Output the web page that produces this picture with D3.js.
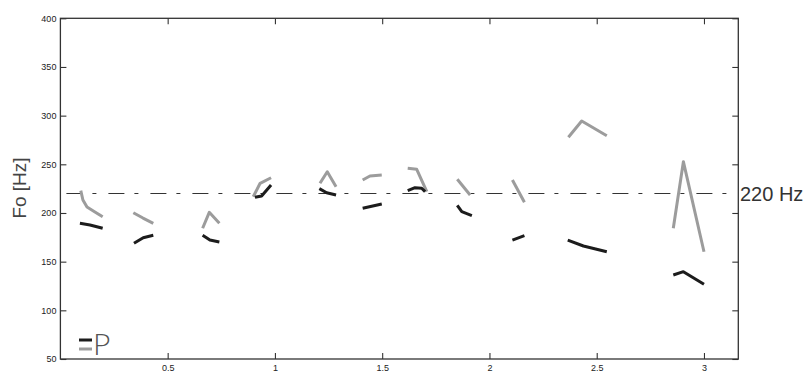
<!DOCTYPE html>
<html>
<head>
<meta charset="utf-8">
<script src="https://cdn.jsdelivr.net/npm/d3@7"></script>
<style>
    body { margin: 0; background: #fff; }
    svg { display: block; }
</style>
</head>
<body>
<svg></svg>
<script>
// time in seconds, Fo in Hz, one entry per voiced stretch
const darkContours = [
    [[0.091, 189.4], [0.138, 187.7], [0.197, 184.3]],
    [[0.343, 168.9], [0.386, 174.6], [0.433, 177.1]],
    [[0.663, 177.1], [0.697, 172.2], [0.741, 170.2]],
    [[0.907, 216.1], [0.938, 217.4], [0.982, 228.7]],
    [[1.207, 225.0], [1.241, 220.8], [1.285, 218.5]],
    [[1.409, 204.8], [1.498, 209.2]],
    [[1.619, 222.9], [1.653, 226.0], [1.684, 225.4], [1.700, 221.9]],
    [[1.850, 207.9], [1.871, 201.3], [1.918, 197.2]],
    [[2.107, 172.2], [2.163, 176.7]],
    [[2.365, 172.2], [2.438, 166.1], [2.547, 160.2]],
    [[2.857, 136.3], [2.904, 139.7], [3.000, 126.7]],
]

const lightContours = [
    [[0.095, 222.9], [0.105, 213.3], [0.124, 206.1], [0.161, 201.0], [0.197, 196.2]],
    [[0.340, 200.3], [0.385, 194.8], [0.433, 189.4]],
    [[0.663, 184.3], [0.694, 200.7], [0.741, 189.4]],
    [[0.899, 216.7], [0.931, 230.5], [0.982, 236.2]],
    [[1.210, 230.5], [1.244, 242.4], [1.285, 227.0]],
    [[1.409, 233.9], [1.443, 238.0], [1.498, 239.0]],
    [[1.619, 245.9], [1.661, 244.9], [1.708, 221.9]],
    [[1.850, 234.6], [1.910, 218.5]],
    [[2.107, 233.9], [2.163, 211.0]],
    [[2.368, 277.8], [2.430, 294.5], [2.547, 279.4]],
    [[2.857, 184.3], [2.904, 252.7], [3.000, 160.2]],
]

const yTicks = [50, 100, 150, 200, 250, 300, 350, 400]
const xTicks = [0.5, 1, 1.5, 2, 2.5, 3]
const refHz = 220

let svgWidth = 804, svgHeight = 374
let plotLeft = 60.4, plotRight = 738.3, plotTop = 18.3, plotBottom = 359

let svg = d3.select('svg')
    .attr('width', svgWidth)
    .attr('height', svgHeight)

let x = d3.scaleLinear().domain([0, 3.16]).range([plotLeft, plotRight])
let y = d3.scaleLinear().domain([50, 400]).range([plotBottom, plotTop])

function styleAxis(g) {
    g.select('.domain').remove()
    g.selectAll('line').attr('stroke', '#333').attr('stroke-width', 1.1)
    g.selectAll('text')
        .attr('fill', '#222')
        .style('font-family', 'Liberation Sans, Arial, sans-serif')
        .style('font-size', '9px')
}

svg.append('g')
    .attr('transform', 'translate(' + plotLeft + ',0)')
    .call(d3.axisLeft(y).tickValues(yTicks).tickSizeInner(-6).tickSizeOuter(0).tickPadding(4))
    .call(styleAxis)

svg.append('g')
    .attr('transform', 'translate(' + plotRight + ',0)')
    .call(d3.axisRight(y).tickValues(yTicks).tickSizeInner(-6).tickSizeOuter(0).tickFormat(''))
    .call(styleAxis)

svg.append('g')
    .attr('transform', 'translate(0,' + plotBottom + ')')
    .call(d3.axisBottom(x).tickValues(xTicks).tickSizeInner(-6).tickSizeOuter(0).tickPadding(6).tickFormat(d3.format('')))
    .call(styleAxis)

svg.append('g')
    .attr('transform', 'translate(0,' + plotTop + ')')
    .call(d3.axisTop(x).tickValues(xTicks).tickSizeInner(-6).tickSizeOuter(0).tickFormat(''))
    .call(styleAxis)

svg.append('rect')
    .attr('x', plotLeft)
    .attr('y', plotTop)
    .attr('width', plotRight - plotLeft)
    .attr('height', plotBottom - plotTop)
    .attr('fill', 'none')
    .attr('stroke', '#333')
    .attr('stroke-width', 1.3)

// 220 Hz reference
svg.append('line')
    .attr('x1', plotLeft)
    .attr('x2', plotRight)
    .attr('y1', y(refHz))
    .attr('y2', y(refHz))
    .attr('stroke', '#333')
    .attr('stroke-width', 1.1)
    .attr('stroke-dasharray', '16,10,4,12')
    .attr('stroke-dashoffset', -6)

svg.append('text')
    .attr('x', 740)
    .attr('y', y(refHz) + 7)
    .text(refHz + ' Hz')
    .attr('fill', '#333')
    .style('font-family', 'Liberation Sans, Arial, sans-serif')
    .style('font-size', '20px')

let line = d3.line()
    .x(function(d){ return x(d[0]) })
    .y(function(d){ return y(d[1]) })

svg.selectAll('path.light')
    .data(lightContours)
    .enter()
    .append('path')
    .attr('class', 'light')
    .attr('d', line)
    .attr('fill', 'none')
    .attr('stroke', '#9c9c9c')
    .attr('stroke-width', 3)
    .attr('stroke-linejoin', 'round')

svg.selectAll('path.dark')
    .data(darkContours)
    .enter()
    .append('path')
    .attr('class', 'dark')
    .attr('d', line)
    .attr('fill', 'none')
    .attr('stroke', '#1c1c1c')
    .attr('stroke-width', 3)
    .attr('stroke-linejoin', 'round')

svg.append('text')
    .attr('transform', 'translate(26,188) rotate(-90)')
    .attr('text-anchor', 'middle')
    .text('Fo [Hz]')
    .attr('fill', '#444')
    .style('font-family', 'Liberation Sans, Arial, sans-serif')
    .style('font-size', '19px')

// legend "=P"
svg.append('line')
    .attr('x1', 79).attr('x2', 92)
    .attr('y1', 340).attr('y2', 340)
    .attr('stroke', '#1c1c1c').attr('stroke-width', 3)
svg.append('line')
    .attr('x1', 79).attr('x2', 92)
    .attr('y1', 349).attr('y2', 349)
    .attr('stroke', '#9c9c9c').attr('stroke-width', 3)
svg.append('text')
    .attr('x', 93)
    .attr('y', 355)
    .text('P')
    .attr('fill', '#555')
    .style('font-family', 'Lato, Open Sans, sans-serif')
    .style('font-weight', 300)
    .style('font-size', '30px')
</script>
</body>
</html>
